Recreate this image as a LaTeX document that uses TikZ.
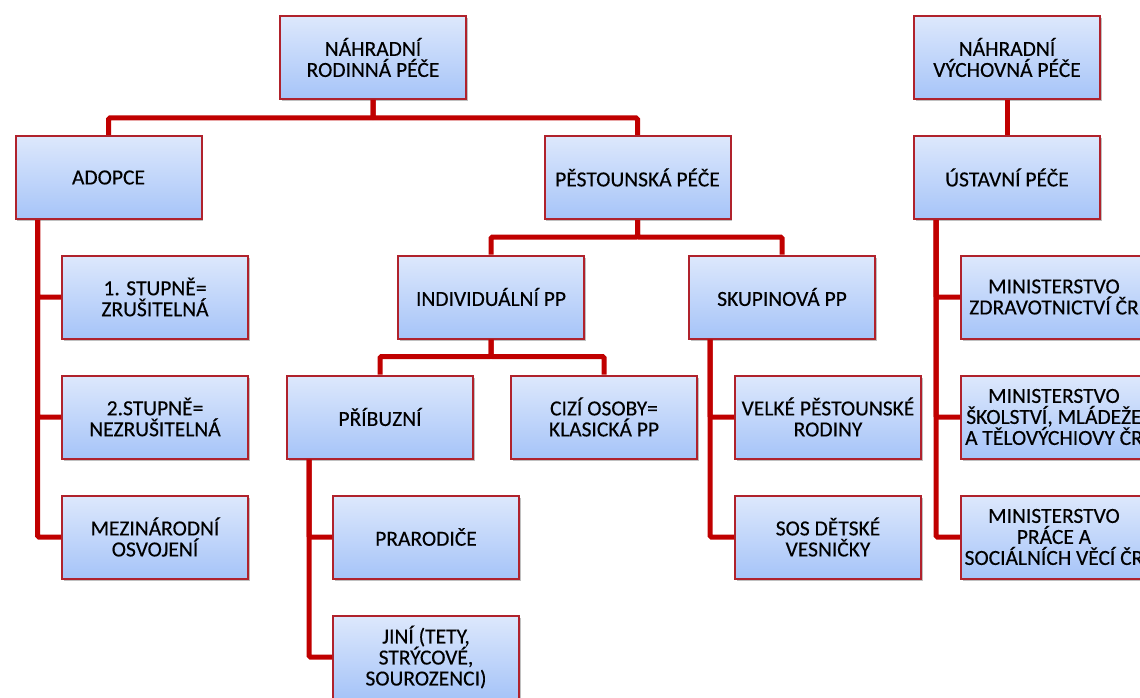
\documentclass[tikz,border=0pt]{standalone}
\usepackage{fontspec}
\setmainfont{Carlito}[FakeBold=0.3]
\usetikzlibrary{shadows}
\definecolor{boxtop}{HTML}{DDE8FC}
\definecolor{boxbot}{HTML}{A6C4F8}
\definecolor{boxedge}{HTML}{B0222C}
\definecolor{conncol}{HTML}{C00000}
\tikzset{
  orgbox/.style={rectangle, draw=boxedge, line width=2pt, top color=boxtop, bottom color=boxbot,
    minimum width=186pt, minimum height=83pt, align=center, inner sep=2pt,
    font=\fontsize{21.5}{21}\selectfont, text=black,
    drop shadow={shadow xshift=1.5pt, shadow yshift=-2pt, opacity=0.35, fill=black!70}},
  conn/.style={draw=conncol, line width=5pt, rounded corners=1.5pt}
}
\begin{document}
\begin{tikzpicture}[x=1pt,y=-1pt]
\useasboundingbox (0,0) rectangle (1140,698);
\fill[white] (0,0) rectangle (1140,698);
\clip (0,0) rectangle (1140,698);
% nodes
\node[orgbox] (nrp) at (373,57.5) {NÁHRADNÍ\\RODINNÁ PÉČE};
\node[orgbox] (nvp) at (1007,57.5) {NÁHRADNÍ\\VÝCHOVNÁ PÉČE};
\node[orgbox] (adopce) at (108.5,177.5) {ADOPCE};
\node[orgbox] (pest) at (637.5,177.5) {PĚSTOUNSKÁ PÉČE};
\node[orgbox] (ust) at (1007,177.5) {ÚSTAVNÍ PÉČE};
\node[orgbox] (st1) at (155,297) {1. STUPNĚ=\\ZRUŠITELNÁ};
\node[orgbox] (st2) at (155,417) {2.STUPNĚ=\\NEZRUŠITELNÁ};
\node[orgbox] (mez) at (155,537) {MEZINÁRODNÍ\\OSVOJENÍ};
\node[orgbox] (ind) at (491,297) {INDIVIDUÁLNÍ PP};
\node[orgbox] (sk) at (782,297) {SKUPINOVÁ PP};
\node[orgbox] (prib) at (380,417) {PŘÍBUZNÍ};
\node[orgbox] (cizi) at (604,417) {CIZÍ OSOBY=\\KLASICKÁ PP};
\node[orgbox] (velke) at (828,417) {VELKÉ PĚSTOUNSKÉ\\RODINY};
\node[orgbox] (sos) at (828,537) {SOS DĚTSKÉ\\VESNIČKY};
\node[orgbox] (prar) at (426,537) {PRARODIČE};
\node[orgbox] (jini) at (426,657) {JINÍ (TETY,\\STRÝCOVÉ,\\SOUROZENCI)};
\node[orgbox] (m1) at (1054,297) {MINISTERSTVO\\ZDRAVOTNICTVÍ ČR};
\node[orgbox] (m2) at (1054,417) {MINISTERSTVO\\ŠKOLSTVÍ, MLÁDEŽE\\A TĚLOVÝCHIOVY ČR};
\node[orgbox] (m3) at (1054,537) {MINISTERSTVO\\PRÁCE A\\SOCIÁLNÍCH VĚCÍ ČR};
% connectors
\draw[conn] (nrp.south) -- ++(0,18) -| (adopce.north);
\draw[conn] (nrp.south) -- ++(0,18) -| (pest.north);
\draw[conn] (nvp.south) -- (ust.north);
\draw[conn] (pest.south) -- ++(0,17) -| (ind.north);
\draw[conn] (pest.south) -- ++(0,17) -| (sk.north);
\draw[conn] (ind.south) -- ++(0,17) -| (prib.north);
\draw[conn] (ind.south) -- ++(0,17) -| (cizi.north);
\draw[conn] ([xshift=23pt]adopce.south west) |- (st1.west);
\draw[conn] ([xshift=23pt]adopce.south west) |- (st2.west);
\draw[conn] ([xshift=23pt]adopce.south west) |- (mez.west);
\draw[conn] ([xshift=23pt]prib.south west) |- (prar.west);
\draw[conn] ([xshift=23pt]prib.south west) |- (jini.west);
\draw[conn] ([xshift=22pt]sk.south west) |- (velke.west);
\draw[conn] ([xshift=22pt]sk.south west) |- (sos.west);
\draw[conn] ([xshift=23pt]ust.south west) |- (m1.west);
\draw[conn] ([xshift=23pt]ust.south west) |- (m2.west);
\draw[conn] ([xshift=23pt]ust.south west) |- (m3.west);
\end{tikzpicture}
\end{document}
